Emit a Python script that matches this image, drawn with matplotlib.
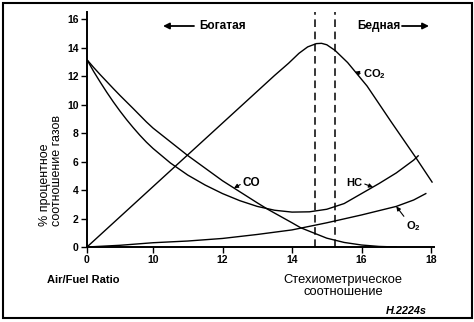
import numpy as np
import matplotlib
matplotlib.use("Agg")
import matplotlib.pyplot as plt
from matplotlib.patches import Rectangle

plt.rcParams['font.family'] = ['Liberation Sans', 'DejaVu Sans']
plt.rcParams['mathtext.fontset'] = 'custom'
plt.rcParams['mathtext.rm'] = 'Liberation Sans'

# --- DATA (air/fuel ratio -> % of exhaust gas) ---
co_x = [0, 1, 2, 3, 4, 5, 6, 7, 8, 9, 10, 11, 12, 13, 13.3, 14, 14.25, 15, 15.5, 16, 16.5, 17]
co_y = [13.15, 12.61, 12.1, 11.61, 11.12, 10.64, 10.18, 9.72, 9.25, 8.78, 8.35,
        6.42, 4.65, 3.1, 2.65, 1.7, 1.35, 0.62, 0.32, 0.14, 0.04, 0.0]

hc_x = [0, 1, 2, 3, 4, 5, 6, 7, 8, 9, 10, 10.5, 11, 11.5, 12, 12.5, 13, 13.5, 14,
        14.5, 15, 15.5, 16, 16.5, 17, 17.5, 17.63]
hc_y = [13.15, 12.33, 11.58, 10.86, 10.18, 9.54, 8.94, 8.38, 7.85, 7.36, 6.92, 5.9,
        5.05, 4.35, 3.75, 3.25, 2.85, 2.58, 2.45, 2.47, 2.65, 3.05, 3.75, 4.45, 5.2,
        6.1, 6.4]

o2_x = [0, 5, 10, 11, 12, 13, 14, 15, 16, 17, 17.5, 17.85]
o2_y = [0, 0.12, 0.3, 0.42, 0.6, 0.88, 1.2, 1.7, 2.25, 2.85, 3.3, 3.75]

co2_x = [0, 13.5, 13.9, 14.2, 14.45, 14.7, 14.85, 15.0, 15.24, 15.6, 16.16, 16.85, 17.57, 18.03]
co2_y = [0, 12.05, 12.9, 13.6, 14.05, 14.28, 14.3, 14.2, 13.8, 12.95, 11.3, 8.8, 6.25, 4.56]

x_ticks = [0, 10, 12, 14, 16, 18]
y_ticks = [0, 2, 4, 6, 8, 10, 12, 14, 16]
stoich_lines = [14.65, 15.25]


# broken x axis: 0..10 squeezed into a short stretch
def forward(x):
    x = np.asarray(x, dtype=float)
    return np.where(x < 10, 8.1 + x * 0.19, x)


def inverse(x):
    x = np.asarray(x, dtype=float)
    return np.where(x < 10, (x - 8.1) / 0.19, x)


W, H = 474, 322


def px(x, y):
    return (x / W, 1 - y / H)


fig = plt.figure(figsize=(W / 100, H / 100), dpi=100)
ax = fig.add_axes([87 / W, 1 - 247 / H, 347.5 / W, 235 / H])
ax.set_xscale('function', functions=(forward, inverse))
ax.set_xlim(0, 18.1)
ax.set_ylim(0, 16.5)

lw = 1.0
ax.plot(co_x, co_y, color='black', lw=lw)
ax.plot(hc_x, hc_y, color='black', lw=lw)
ax.plot(o2_x, o2_y, color='black', lw=lw)
ax.plot(co2_x, co2_y, color='black', lw=lw)
for xs in stoich_lines:
    ax.axvline(xs, color='black', lw=1.1, ls=(0, (5, 3)))

ax.spines['top'].set_visible(False)
ax.spines['right'].set_visible(False)
ax.spines['left'].set_linewidth(1.4)
ax.spines['bottom'].set_linewidth(1.4)
ax.set_xticks(x_ticks)
ax.set_xticklabels([str(t) for t in x_ticks])
ax.set_yticks(y_ticks)
ax.set_yticklabels([str(t) for t in y_ticks])
ax.tick_params(direction='out', length=4, width=1.0, labelsize=7.5, pad=2)
for lab in ax.get_xticklabels() + ax.get_yticklabels():
    lab.set_fontweight('bold')

# curve labels
arrow = dict(arrowstyle='-|>', color='black', lw=0.8, mutation_scale=6, shrinkA=0, shrinkB=0)
ax.annotate('CO', xy=(12.33, 4.14), xytext=px(243, 183), textcoords='figure fraction',
            ha='left', va='center', fontsize=8.5, fontweight='bold',
            arrowprops=dict(arrow, relpos=(0, 0.5)))
ax.annotate('HC', xy=(16.33, 4.2), xytext=px(362, 183), textcoords='figure fraction',
            ha='right', va='center', fontsize=8, fontweight='bold',
            arrowprops=dict(arrow, relpos=(1, 0.5)))
ax.annotate(r'O$_\mathregular{2}$', xy=(17.0, 2.85), xytext=px(406, 226), textcoords='figure fraction',
            ha='left', va='center', fontsize=8, fontweight='bold',
            arrowprops=dict(arrow, relpos=(0, 1)))
ax.annotate(r'CO$_\mathregular{2}$', xy=(15.81, 12.3), xytext=px(363, 74), textcoords='figure fraction',
            ha='left', va='center', fontsize=8, fontweight='bold',
            arrowprops=dict(arrow, relpos=(0, 0.5)))

# rich / lean arrows
big = dict(arrowstyle='-|>', color='black', lw=1.3, mutation_scale=9, shrinkA=0, shrinkB=0)
ax.annotate('', xy=px(163, 26), xytext=px(194, 26), xycoords='figure fraction',
            textcoords='figure fraction', arrowprops=big)
fig.text(*px(199, 26), 'Богатая', ha='left', va='center', fontsize=8.5, fontweight='bold')
ax.annotate('', xy=px(429, 26), xytext=px(402, 26), xycoords='figure fraction',
            textcoords='figure fraction', arrowprops=big)
fig.text(*px(400, 26), 'Бедная', ha='right', va='center', fontsize=8.5, fontweight='bold')

# axis captions
fig.text(*px(51, 226), '% процентное\nсоотношение газов', rotation=90, ha='center', va='bottom',
         multialignment='left', fontsize=9, linespacing=0.95)
fig.text(*px(47, 280), 'Air/Fuel Ratio', ha='left', va='center', fontsize=8, fontweight='bold')
fig.text(*px(343, 286), 'Стехиометрическое\nсоотношение', ha='center', va='center',
         fontsize=9.3, linespacing=1.0)
fig.text(*px(427, 311), 'H.2224s', ha='right', va='center', fontsize=7.8,
         fontweight='bold', style='italic')

fig.patches.append(Rectangle((3 / W, 1 - 318 / H), 469 / W, 315 / H, transform=fig.transFigure,
                             fill=False, lw=1.5, edgecolor='black'))

fig.savefig('out.png', dpi=100)
